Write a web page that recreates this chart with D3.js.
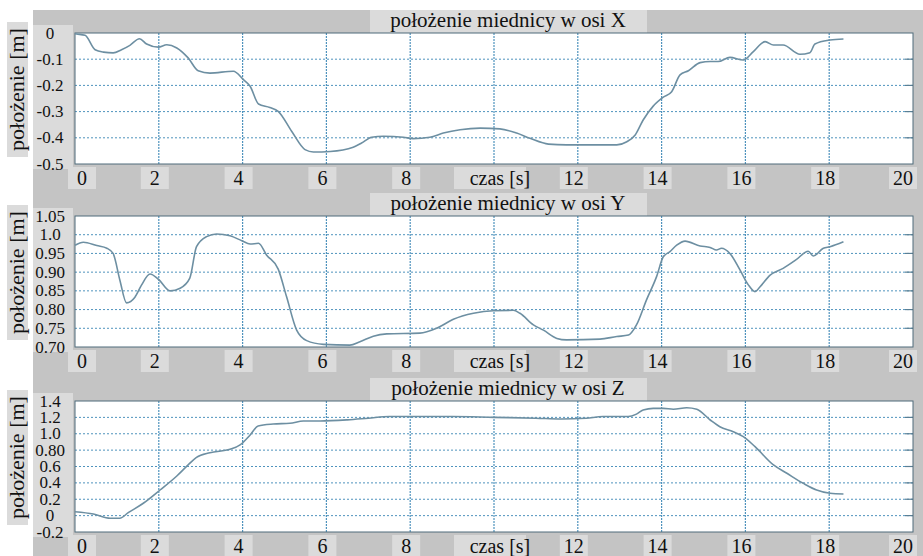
<!DOCTYPE html>
<html lang="pl">
<head>
	<meta charset="utf-8">
	<title>położenie miednicy</title>
	<script src="https://d3js.org/d3.v7.min.js" charset="utf-8"></script>
	<style>
	body { margin: 0; background: #ffffff; }
	</style>
</head>
<body>
	<script>
	// Data: time [s] and position [m]
	var timeX = [0, 0.04, 0.24, 0.48, 0.68, 0.91, 1.11, 1.31, 1.54, 1.71, 1.99, 2.19, 2.43, 2.70, 2.94, 3.22, 3.78, 4.02, 4.18, 4.38, 4.65, 4.85, 5.17, 5.49, 5.69, 6.09, 6.64, 6.84, 7.08, 7.36, 7.84, 8.07, 8.47, 8.79, 9.19, 9.67, 10.14, 10.54, 10.86, 11.30, 11.73, 12.53, 12.93, 13.17, 13.37, 13.56, 13.80, 14.04, 14.24, 14.44, 14.64, 14.92, 15.16, 15.35, 15.63, 15.95, 16.19, 16.47, 16.67, 16.90, 17.30, 17.54, 17.66, 18.02, 18.34];
	var posX = [-0.003, -0.004, -0.009, -0.064, -0.073, -0.076, -0.064, -0.047, -0.022, -0.042, -0.054, -0.045, -0.057, -0.095, -0.144, -0.153, -0.146, -0.178, -0.203, -0.271, -0.284, -0.299, -0.375, -0.445, -0.454, -0.452, -0.436, -0.420, -0.398, -0.394, -0.398, -0.403, -0.398, -0.382, -0.369, -0.363, -0.366, -0.382, -0.402, -0.424, -0.427, -0.427, -0.427, -0.415, -0.389, -0.332, -0.279, -0.245, -0.224, -0.160, -0.144, -0.113, -0.109, -0.109, -0.093, -0.103, -0.071, -0.033, -0.046, -0.046, -0.081, -0.075, -0.042, -0.027, -0.023];

	var timeY = [0, 0.2, 0.52, 0.76, 0.91, 1.07, 1.23, 1.43, 1.59, 1.79, 1.99, 2.27, 2.51, 2.74, 2.90, 3.14, 3.38, 3.70, 3.98, 4.18, 4.38, 4.57, 4.85, 5.05, 5.29, 5.53, 5.93, 6.56, 6.80, 7.12, 7.44, 8.23, 8.63, 9.03, 9.51, 9.98, 10.46, 10.62, 10.94, 11.18, 11.50, 11.73, 12.53, 12.93, 13.21, 13.40, 13.64, 13.88, 14.04, 14.20, 14.36, 14.56, 14.92, 15.16, 15.31, 15.43, 15.63, 15.87, 16.07, 16.23, 16.35, 16.59, 16.90, 17.22, 17.50, 17.62, 17.86, 18.02, 18.34];
	var posY = [0.972, 0.980, 0.971, 0.964, 0.950, 0.879, 0.818, 0.833, 0.866, 0.895, 0.881, 0.850, 0.857, 0.884, 0.968, 0.995, 1.002, 0.997, 0.984, 0.975, 0.977, 0.946, 0.908, 0.834, 0.745, 0.717, 0.707, 0.705, 0.714, 0.729, 0.735, 0.737, 0.750, 0.774, 0.790, 0.797, 0.798, 0.790, 0.759, 0.745, 0.723, 0.719, 0.721, 0.728, 0.732, 0.759, 0.826, 0.888, 0.941, 0.955, 0.972, 0.983, 0.970, 0.966, 0.959, 0.964, 0.950, 0.906, 0.866, 0.848, 0.861, 0.892, 0.910, 0.934, 0.956, 0.943, 0.964, 0.968, 0.981];

	var timeZ = [0, 0.44, 0.84, 1.07, 1.27, 1.63, 2.03, 2.43, 2.70, 2.90, 3.22, 3.70, 3.94, 4.18, 4.37, 4.73, 5.13, 5.45, 5.85, 6.5, 7.0, 7.5, 8.0, 9.0, 10.0, 11.0, 11.6, 12.2, 12.6, 13.2, 13.4, 13.56, 13.80, 14.04, 14.28, 14.6, 14.84, 15.16, 15.39, 15.71, 15.95, 16.23, 16.67, 16.99, 17.38, 17.70, 18.02, 18.34];
	var posZ = [0.048, 0.020, -0.032, -0.032, 0.036, 0.151, 0.313, 0.484, 0.619, 0.712, 0.769, 0.810, 0.863, 0.985, 1.095, 1.119, 1.128, 1.156, 1.156, 1.17, 1.19, 1.21, 1.21, 1.21, 1.20, 1.19, 1.18, 1.19, 1.21, 1.21, 1.24, 1.29, 1.31, 1.31, 1.30, 1.318, 1.30, 1.168, 1.086, 1.025, 0.964, 0.842, 0.619, 0.517, 0.395, 0.313, 0.273, 0.264];

	// Axis ticks and labels
	var timeTicks = [0, 2, 4, 6, 8, 10, 12, 14, 16, 18, 20];
	var timeLabels = ["0", "2", "4", "6", "8", "czas [s]", "12", "14", "16", "18", "20"];

	var ticksX = [0, -0.1, -0.2, -0.3, -0.4, -0.5];
	var labelsX = ["0", "-0.1", "-0.2", "-0.3", "-0.4", "-0.5"];
	var ticksY = [1.05, 1.0, 0.95, 0.90, 0.85, 0.80, 0.75, 0.70];
	var labelsY = ["1.05", "1.0", "0.95", "0.90", "0.85", "0.80", "0.75", "0.70"];
	var ticksZ = [1.4, 1.2, 1.0, 0.8, 0.6, 0.4, 0.2, 0, -0.2];
	var labelsZ = ["1.4", "1.2", "1.0", "0.80", "0.6", "0.4", "0.2", "0", "-0.2"];

	var titles = ["położenie miednicy w osi X", "położenie miednicy w osi Y", "położenie miednicy w osi Z"];
	var yLabel = "położenie [m]";

	// Page size and layout
	var w = 923;
	var h = 556;
	var left = 75, right = 913;
	var plotH = 131;
	var panelTops = [33, 216, 401];
	var serif = "'Liberation Serif', 'Times New Roman', Times, serif";

	var darkGray = "#c4c4c4";
	var lightGray = "#dbdbdb";
	var gridColor = "#4f93bd";
	var lineColor = "#6d8fa2";

	var panels = [
		{ t: timeX, v: posX, ticks: ticksX, labels: labelsX, title: titles[0] },
		{ t: timeY, v: posY, ticks: ticksY, labels: labelsY, title: titles[1] },
		{ t: timeZ, v: posZ, ticks: ticksZ, labels: labelsZ, title: titles[2] }
	];

	var svg = d3.select("body")
		.append("svg")
		.attr("width", w)
		.attr("height", h)
		.style("font-family", serif);

	// gray window background
	svg.append("rect")
		.attr("x", 33).attr("y", 10)
		.attr("width", w - 33).attr("height", h - 10)
		.attr("fill", darkGray);

	var xScale = d3.scaleLinear()
		.domain([0, 20])
		.range([left, right]);

	panels.forEach(function(p, i) {
		var top = panelTops[i];
		var bottom = top + plotH;

		var yScale = d3.scaleLinear()
			.domain(d3.extent(p.ticks))
			.range([bottom, top]);

		var g = svg.append("g");

		// title box and text
		g.append("rect")
			.attr("x", 370).attr("y", top - 23)
			.attr("width", 277).attr("height", 23)
			.attr("fill", lightGray);
		g.append("text")
			.attr("x", (left + right) / 2 + 14)
			.attr("y", top - 6)
			.attr("text-anchor", "middle")
			.attr("font-size", "21px")
			.attr("fill", "#111")
			.text(p.title);

		// y label box (outside the gray window)
		g.append("rect")
			.attr("x", 7).attr("y", top - 11)
			.attr("width", 21).attr("height", plotH + 4)
			.attr("fill", lightGray);
		g.append("text")
			.attr("text-anchor", "middle")
			.attr("font-size", "22px")
			.attr("fill", "#111")
			.attr("transform", "translate(24," + (top + plotH / 2 - 9) + ") rotate(-90)")
			.text(yLabel);

		// tick label column
		g.append("rect")
			.attr("x", 33).attr("y", top - 8)
			.attr("width", 40).attr("height", plotH + 13)
			.attr("fill", lightGray);

		// plot background
		g.append("rect")
			.attr("x", left).attr("y", top)
			.attr("width", right - left).attr("height", plotH)
			.attr("fill", "#ffffff");

		// horizontal grid
		g.selectAll(".hgrid")
			.data(p.ticks.slice(1, -1))
			.enter()
			.append("line")
			.attr("x1", left).attr("x2", right)
			.attr("y1", function(d) { return yScale(d); })
			.attr("y2", function(d) { return yScale(d); })
			.attr("stroke", gridColor)
			.attr("stroke-width", 1)
			.attr("stroke-dasharray", "2,2");

		// small inner ticks on the right edge
		g.selectAll(".rtick")
			.data(p.ticks.slice(1, -1))
			.enter()
			.append("line")
			.attr("x1", right - 8).attr("x2", right)
			.attr("y1", function(d) { return yScale(d); })
			.attr("y2", function(d) { return yScale(d); })
			.attr("stroke", "#5a7f94")
			.attr("stroke-width", 1.2);

		// vertical grid
		g.selectAll(".vgrid")
			.data(timeTicks.slice(1, -1))
			.enter()
			.append("line")
			.attr("x1", function(d) { return xScale(d); })
			.attr("x2", function(d) { return xScale(d); })
			.attr("y1", top).attr("y2", bottom)
			.attr("stroke", gridColor)
			.attr("stroke-width", 1.2)
			.attr("stroke-dasharray", "2,1");

		// plot border
		g.append("rect")
			.attr("x", left).attr("y", top)
			.attr("width", right - left).attr("height", plotH)
			.attr("fill", "none")
			.attr("stroke", "#4e6b7a")
			.attr("stroke-width", 1);

		// y tick labels
		g.selectAll(".ylab")
			.data(p.ticks)
			.enter()
			.append("text")
			.attr("x", 50)
			.attr("y", function(d) { return yScale(d); })
			.attr("dy", "0.33em")
			.attr("text-anchor", "middle")
			.attr("font-size", "17px")
			.attr("fill", "#111")
			.text(function(d, k) { return p.labels[k]; });

		// x tick label boxes and labels
		var xPos = function(d) {
			return Math.max(left + 7, Math.min(right - 10, xScale(d) - 4));
		};
		g.selectAll(".xbox")
			.data(timeTicks)
			.enter()
			.append("rect")
			.attr("x", function(d, k) { return xPos(d) - (k === 5 ? 36 : 14); })
			.attr("y", bottom + 3)
			.attr("width", function(d, k) { return k === 5 ? 72 : 28; })
			.attr("height", 22)
			.attr("fill", lightGray);
		g.selectAll(".xlab")
			.data(timeTicks)
			.enter()
			.append("text")
			.attr("x", function(d, k) { return k === 5 ? xScale(d) + 6 : xPos(d); })
			.attr("y", bottom + 14)
			.attr("dy", "0.35em")
			.attr("text-anchor", "middle")
			.attr("font-size", "20px")
			.attr("fill", "#111")
			.text(function(d, k) { return timeLabels[k]; });

		// the data line
		var line = d3.line()
			.x(function(d, k) { return xScale(p.t[k]); })
			.y(function(d) { return yScale(d); })
			.curve(d3.curveMonotoneX);

		g.append("path")
			.datum(p.v)
			.attr("d", line)
			.attr("fill", "none")
			.attr("stroke", lineColor)
			.attr("stroke-width", 1.6);
	});
	</script>
</body>
</html>
